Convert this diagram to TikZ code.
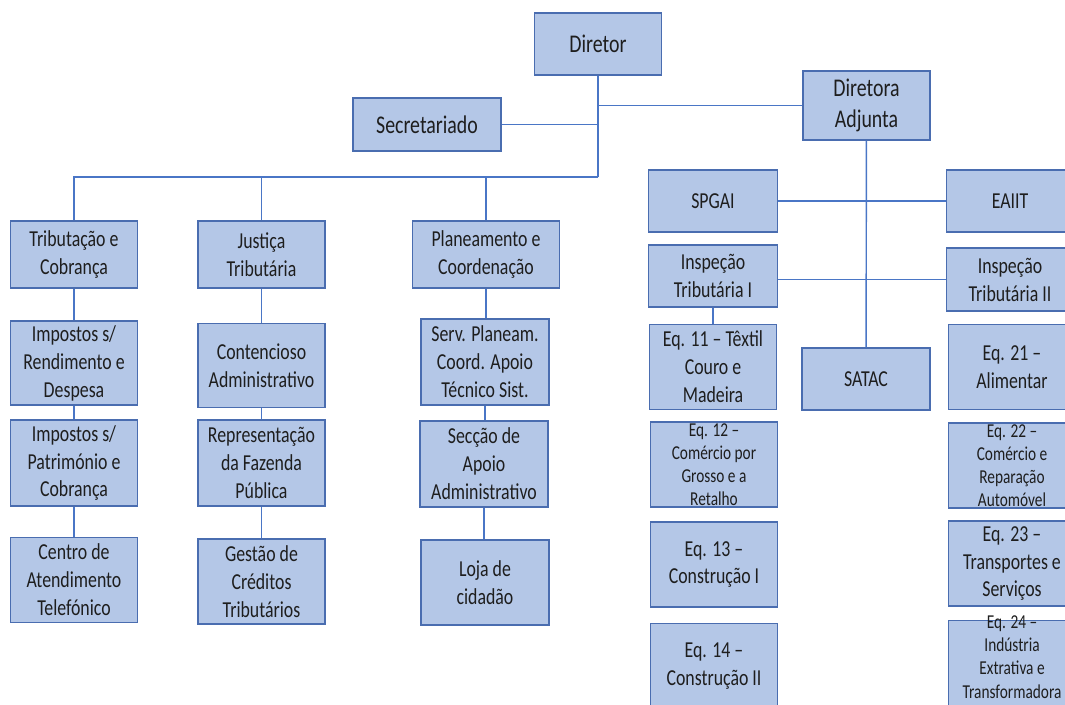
\documentclass[tikz,border=0pt]{standalone}
\usepackage{fontspec}
\setmainfont{Carlito}[FakeStretch=0.78]
\definecolor{BoxFill}{HTML}{B4C7E7}
\definecolor{BoxLine}{HTML}{4A6DB0}
\definecolor{LinkBlue}{HTML}{4A76C6}
\definecolor{InkDark}{HTML}{1E1E1E}

\begin{document}
\begin{tikzpicture}[x=0.02cm,y=-0.02cm]
    \tikzstyle{box}=[draw=BoxLine,line width=.8pt,fill=BoxFill,align=center,inner sep=0pt,minimum width=2.54cm,minimum height=1.7cm,text=InkDark,font=\fontsize{13}{15.9}\selectfont]
    \tikzstyle{headbox}=[box,font=\fontsize{14.5}{17.5}\selectfont]
    \tikzstyle{smalltext}=[align=center,inner sep=0pt,text=InkDark,font=\fontsize{11.2}{13.2}\selectfont]
    \tikzstyle{link}=[draw=LinkBlue,line width=.8pt]
    \path[use as bounding box] (0,0) rectangle (1065,704);
    % direcao
    \node[headbox,minimum height=1.24cm]                    (dir)  at (598,44)    {Diretor};
    \node[headbox,minimum width=2.96cm,minimum height=1.06cm] (sec) at (427,124.5) {Secretariado};
    \node[headbox,minimum height=1.38cm]                    (adj)  at (866.5,105.5) {Diretora\\Adjunta};
    \coordinate (hub) at (598,177);
    % areas do diretor
    \node[box,minimum height=1.34cm]                        (trib) at (74,254.5)  {Tributação e\\Cobrança};
    \node[box,minimum height=1.34cm]                        (just) at (261.5,254.5) {Justiça\\Tributária};
    \node[box,minimum width=2.94cm,minimum height=1.34cm]   (plan) at (486,254.5) {Planeamento e\\Coordenação};
    \node[box,minimum height=1.68cm] (irend)  at (74,363)    {Impostos s/\\Rendimento e\\Despesa};
    \node[box,minimum height=1.68cm] (cont)   at (261.5,365.5) {Contencioso\\Administrativo};
    \node[box,minimum width=2.56cm,minimum height=1.72cm] (serv) at (485,362) {Serv. Planeam.\\Coord. Apoio\\Técnico Sist.};
    \node[box,minimum height=1.72cm] (ipat)   at (74,463)    {Impostos s/\\Património e\\Cobrança};
    \node[box,minimum height=1.72cm] (rep)    at (261.5,463) {Representação\\da Fazenda\\Pública};
    \node[box,minimum width=2.56cm,minimum height=1.72cm] (secc) at (484,464) {Secção de\\Apoio\\Administrativo};
    \node[box]                       (centro) at (74,580)    {Centro de\\Atendimento\\Telefónico};
    \node[box]                       (gest)   at (261.5,581.5) {Gestão de\\Créditos\\Tributários};
    \node[box,minimum width=2.56cm]  (loja)   at (485,582.5) {Loja de\\cidadão};
    % areas da diretora adjunta
    \node[box,minimum width=2.58cm,minimum height=1.24cm] (spgai) at (713,201) {SPGAI};
    \node[box,minimum height=1.24cm] (eaiit)  at (1010,201)  {EAIIT};
    \node[box,minimum width=2.58cm,minimum height=1.24cm] (it1) at (713,276) {Inspeção\\Tributária I};
    \node[box,minimum height=1.26cm] (it2)    at (1010,279.5) {Inspeção\\Tributária II};
    \node[box,minimum width=2.56cm,minimum height=1.24cm] (satac) at (866,379) {SATAC};
    \node[box]                       (eq11)   at (713,367)   {Eq. 11 – Têxtil\\Couro e\\Madeira};
    \node[box]                       (eq12)   at (714,464.5) {};
    \node[smalltext]                 (eq12t)  at (eq12)      {Eq. 12 –\\Comércio por\\Grosso e a\\Retalho};
    \node[box]                       (eq13)   at (714,564.5) {Eq. 13 –\\Construção I};
    \node[box]                       (eq14)   at (714,666)   {Eq. 14 –\\Construção II};
    \node[box]                       (eq21)   at (1012,367)  {Eq. 21 –\\Alimentar};
    \node[box]                       (eq22)   at (1012,465.5) {};
    \node[smalltext]                 (eq22t)  at (eq22)      {Eq. 22 –\\Comércio e\\Reparação\\Automóvel};
    \node[box]                       (eq23)   at (1012,563.5) {Eq. 23 –\\Transportes e\\Serviços};
    \node[box]                       (eq24)   at (1012,663)  {};
    \node[smalltext]                 (eq24t)  at (1012,657)  {Eq. 24 –\\Indústria\\Extrativa e\\Transformadora};
    % ligacoes
    \draw[link] (dir) -- (hub);
    \draw[link] (sec) -- (sec -| hub);
    \draw[link] (adj) -- (adj -| hub);
    \draw[link] (hub) -| (trib);
    \draw[link] (hub) -| (just);
    \draw[link] (hub) -| (plan);
    \draw[link] (trib) -- (irend);
    \draw[link] (irend) -- (ipat);
    \draw[link] (ipat) -- (centro);
    \draw[link] (just) -- (cont);
    \draw[link] (cont) -- (rep);
    \draw[link] (rep) -- (gest);
    \draw[link] (plan) -- (plan |- serv.north);
    \draw[link] (serv) -- (serv |- secc.north);
    \draw[link] (secc) -- (secc |- loja.north);
    \draw[link] (adj) -- (satac);
    \draw[link] (spgai) -- (eaiit);
    \draw[link] (it1.east |- it2) -- (it2);
    \draw[link] (it1) -- (eq11);
\end{tikzpicture}
\end{document}
